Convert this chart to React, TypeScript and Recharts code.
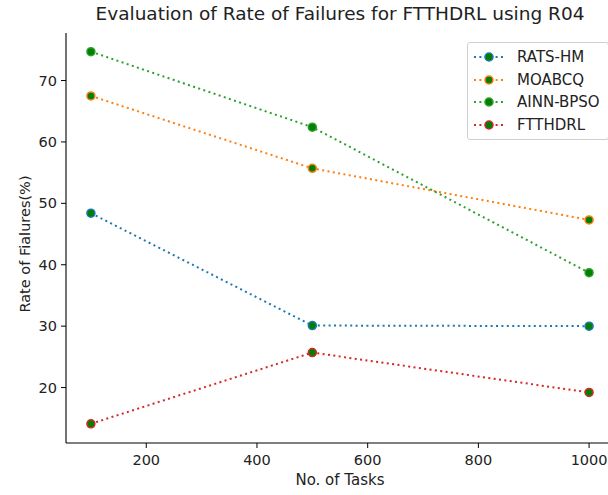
import { CartesianGrid, Legend, Line, LineChart, XAxis, YAxis } from "recharts"

// number of tasks on the x axis
const tasks = [100, 500, 1000]

// failure rate (%) per method
const ratsHm = [48.4, 30.1, 30.0]
const moabcq = [67.5, 55.7, 47.3]
const ainnBpso = [74.7, 62.4, 38.7]
const ftthdrl = [14.1, 25.7, 19.2]

const xTicks = [200, 400, 600, 800, 1000]
const yTicks = [20, 30, 40, 50, 60, 70]

const series = [
  { key: "ratsHm", name: "RATS-HM", color: "#1f77b4", values: ratsHm },
  { key: "moabcq", name: "MOABCQ", color: "#ff7f0e", values: moabcq },
  { key: "ainnBpso", name: "AINN-BPSO", color: "#2ca02c", values: ainnBpso },
  { key: "ftthdrl", name: "FTTHDRL", color: "#d62728", values: ftthdrl },
]

const chartData = tasks.map((t, i) => {
  const row: Record<string, number> = { tasks: t }
  series.forEach((s) => {
    row[s.key] = s.values[i]
  })
  return row
})

const FONT = "'DejaVu Sans', sans-serif"
const TEXT = "#222"
const MARKER_FILL = "#008000"

function LegendBox() {
  return (
    <div
      style={{
        border: "1px solid #d0d0d0",
        borderRadius: 3,
        background: "rgba(255,255,255,0.85)",
        padding: "3px 8px 3px 5px",
        fontFamily: FONT,
        fontSize: 15,
        color: TEXT,
      }}
    >
      {series.map((s) => (
        <div key={s.key} style={{ display: "flex", alignItems: "center", height: 22.5 }}>
          <svg width={32} height={12} style={{ marginRight: 12 }}>
            <line x1={1} y1={6} x2={31} y2={6} stroke={s.color} strokeWidth={2} strokeDasharray="2 3.4" />
            <circle cx={16} cy={6} r={4} fill={MARKER_FILL} stroke={s.color} strokeWidth={1.5} />
          </svg>
          <span>{s.name}</span>
        </div>
      ))}
    </div>
  )
}

function YAxisTitle({ viewBox }: any) {
  const cx = viewBox.x + 25
  const cy = viewBox.y + viewBox.height / 2 + 6
  return (
    <text
      x={cx}
      y={cy}
      transform={`rotate(-90 ${cx} ${cy})`}
      textAnchor="middle"
      dominantBaseline="central"
      fontFamily={FONT}
      fontSize={14.5}
      fill={TEXT}
    >
      Rate of Fialures(%)
    </text>
  )
}

export default function App() {
  return (
    <div
      style={{
        position: "absolute",
        left: 0,
        top: 0,
        width: 608,
        height: 495,
        overflow: "hidden",
        background: "#fff",
      }}
    >
      <div
        style={{
          position: "absolute",
          top: 3,
          left: 66,
          width: 548,
          textAlign: "center",
          fontFamily: FONT,
          fontSize: 18.5,
          color: TEXT,
          whiteSpace: "nowrap",
        }}
      >
        Evaluation of Rate of Failures for FTTHDRL using R04
      </div>
      <LineChart
        width={640}
        height={495}
        data={chartData}
        margin={{ top: 33, right: 26, bottom: 0, left: 0 }}
      >
        <CartesianGrid stroke="none" />
        <XAxis
          xAxisId="top"
          orientation="top"
          type="number"
          dataKey="tasks"
          domain={[55, 1045]}
          height={0}
          tick={false}
          tickLine={false}
          axisLine={{ stroke: "#000", strokeWidth: 1.1 }}
        />
        <XAxis
          type="number"
          dataKey="tasks"
          domain={[55, 1045]}
          ticks={xTicks}
          height={52}
          tickSize={5}
          tickMargin={7}
          tick={{ fill: TEXT, fontSize: 14.5, fontFamily: FONT }}
          tickLine={{ stroke: "#000" }}
          axisLine={{ stroke: "#000", strokeWidth: 1.1 }}
          label={{
            value: "No. of Tasks",
            position: "insideBottom",
            offset: 10,
            fill: TEXT,
            fontSize: 15,
            fontFamily: FONT,
          }}
        />
        <YAxis
          type="number"
          domain={[10.97, 77.74]}
          ticks={yTicks}
          width={66}
          tickSize={5}
          tickMargin={4}
          tick={{ fill: TEXT, fontSize: 14.5, fontFamily: FONT }}
          tickLine={{ stroke: "#000" }}
          axisLine={{ stroke: "#000", strokeWidth: 1.1 }}
          label={<YAxisTitle />}
        />
        <Legend
          layout="vertical"
          align="center"
          verticalAlign="middle"
          wrapperStyle={{ left: 467, top: 42, width: "auto" }}
          content={() => <LegendBox />}
        />
        {series.map((s) => (
          <Line
            key={s.key}
            type="linear"
            dataKey={s.key}
            name={s.name}
            stroke={s.color}
            strokeWidth={2}
            strokeDasharray="2 3.4"
            dot={{ r: 4, fill: MARKER_FILL, stroke: s.color, strokeWidth: 1.5, strokeDasharray: "" }}
            activeDot={false}
            isAnimationActive={false}
          />
        ))}
      </LineChart>
    </div>
  )
}
